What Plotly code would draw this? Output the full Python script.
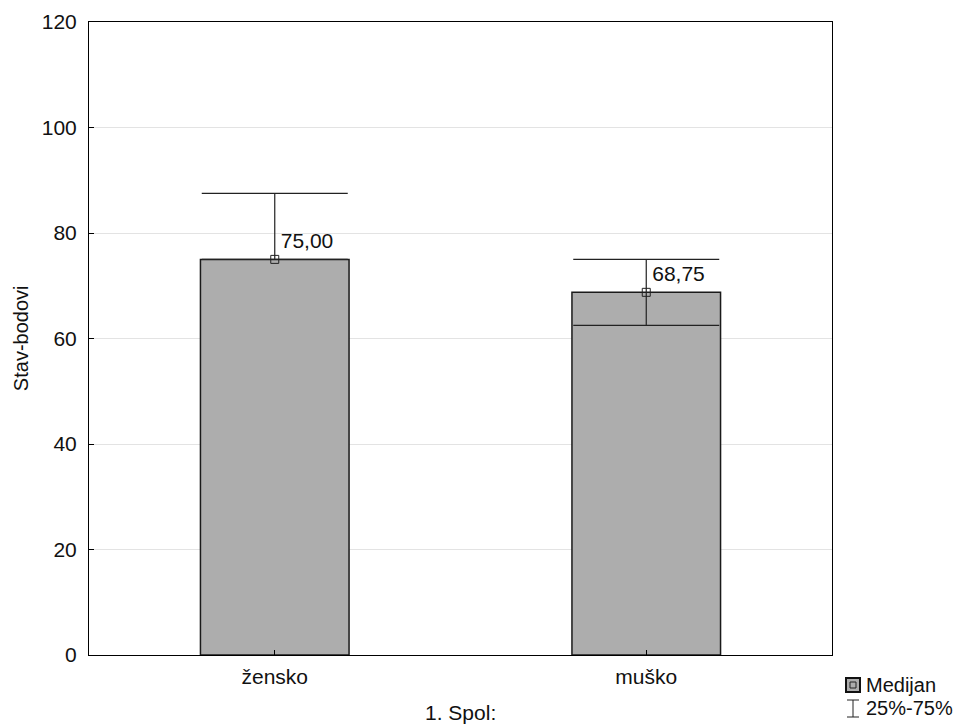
import plotly.graph_objects as go

categories = ["žensko", "muško"]
medians = [75.00, 68.75]
q25 = [75.0, 62.5]
q75 = [87.5, 75.0]
median_labels = ["75,00", "68,75"]
y_ticks = [0, 20, 40, 60, 80, 100, 120]

xs = list(range(len(categories)))
FONT = "Liberation Sans, Arial, sans-serif"
FS = 21

# page body adds an 8px offset; plot area target (screen px): left 89, right 832, top 22, bottom 655
W, H = 953, 717
L, R, T, B = 81, W - 824, 14, H - 647

fig = go.Figure()
fig.add_trace(go.Bar(
    x=xs, y=medians, width=0.4,
    marker=dict(color="#adadad", line=dict(color="#1a1a1a", width=1.5)),
    showlegend=False, hoverinfo="skip",
))
fig.add_trace(go.Scatter(
    x=xs, y=medians, mode="markers+text",
    marker=dict(symbol="square-open", size=8, color="#222222", line=dict(width=1)),
    text=median_labels, textposition="top right",
    textfont=dict(family=FONT, size=FS, color="#111111"),
    error_y=dict(type="data", symmetric=False,
                 array=[a - m for a, m in zip(q75, medians)],
                 arrayminus=[m - b for m, b in zip(medians, q25)],
                 width=73, thickness=1.2, color="#222222"),
    showlegend=False, hoverinfo="skip",
))

fig.update_layout(
    width=W, height=H,
    margin=dict(l=L, r=R, t=T, b=B),
    plot_bgcolor="white", paper_bgcolor="white",
    font=dict(family=FONT, size=FS, color="#111111"),
)
fig.update_xaxes(
    range=[-0.5, 1.5], tickvals=xs, ticktext=categories,
    showline=True, linecolor="black", linewidth=1, mirror=True,
    ticks="inside", ticklen=5, tickcolor="black", showgrid=False, zeroline=False,
    tickfont=dict(size=FS), ticklabelstandoff=3, automargin=False,
)
fig.update_yaxes(
    range=[0, 120], tickvals=y_ticks,
    showline=True, linecolor="black", linewidth=1, mirror=True,
    ticks="inside", ticklen=5, tickcolor="black",
    showgrid=True, gridcolor="#e3e3e3", gridwidth=1, zeroline=False,
    tickfont=dict(size=FS), ticklabelstandoff=7, automargin=False,
)

# axis titles
fig.add_annotation(text="1. Spol:", xref="paper", yref="paper", x=0.5, y=-0.0916,
                   yanchor="middle", showarrow=False, font=dict(size=FS))
fig.add_annotation(text="Stav-bodovi", xref="paper", yref="paper", x=-0.092, y=0.5,
                   textangle=-90, xanchor="center", yanchor="middle",
                   showarrow=False, font=dict(size=20))

# legend (positions in reference screen pixels mapped to paper coords)
def px_to_paper_x(px):
    return (px - 89) / (832 - 89)

def px_to_paper_y(py):
    return (655 - py) / (655 - 22)

LFS = 20
fig.add_shape(type="rect", xref="paper", yref="paper",
              x0=px_to_paper_x(846), x1=px_to_paper_x(860),
              y0=px_to_paper_y(692), y1=px_to_paper_y(678),
              line=dict(color="#111111", width=2), fillcolor="#adadad")
fig.add_shape(type="rect", xref="paper", yref="paper",
              x0=px_to_paper_x(850), x1=px_to_paper_x(856),
              y0=px_to_paper_y(688), y1=px_to_paper_y(682),
              line=dict(color="#222222", width=1), fillcolor="#adadad")
fig.add_annotation(text="Medijan", xref="paper", yref="paper",
                   x=px_to_paper_x(864), y=px_to_paper_y(685),
                   xanchor="left", yanchor="middle", showarrow=False, font=dict(size=LFS))
for (x0, y0, x1, y1) in [(847, 700, 859, 700), (853, 700, 853, 717), (847, 717, 859, 717)]:
    fig.add_shape(type="line", xref="paper", yref="paper",
                  x0=px_to_paper_x(x0), x1=px_to_paper_x(x1),
                  y0=px_to_paper_y(y0), y1=px_to_paper_y(y1),
                  line=dict(color="#222222", width=1))
fig.add_annotation(text="25%-75%", xref="paper", yref="paper",
                   x=px_to_paper_x(864), y=px_to_paper_y(708),
                   xanchor="left", yanchor="middle", showarrow=False, font=dict(size=LFS))

fig.write_html("out.html")
